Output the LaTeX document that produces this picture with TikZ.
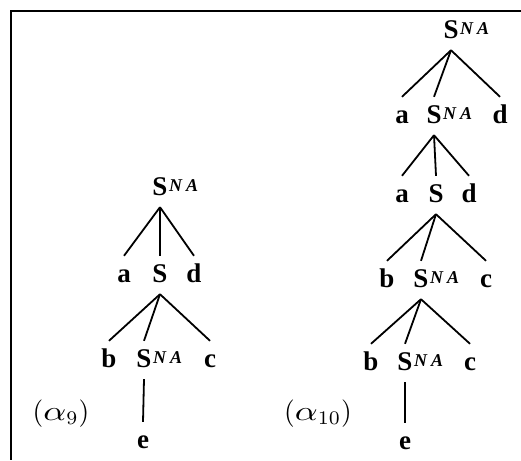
\documentclass[tikz,border=0pt]{standalone}
\usepackage{graphicx}
\usepackage{fontspec}
\setmainfont{Liberation Serif}
\newcommand{\myna}{\rlap{\hspace{1.5pt}\raisebox{4pt}{\fontsize{18}{18}\selectfont\itshape N\hspace{4pt}A}}}
\newcommand{\walpha}{\scalebox{1.3}[1]{$\alpha$}}
\begin{document}
\begin{tikzpicture}[x=1pt,y=-1pt,
  lt/.style={anchor=base,inner xsep=0pt,inner ysep=12pt,text height=14pt,text depth=0pt,
     font=\fontsize{27}{27}\selectfont\bfseries},
  edge/.style={line width=1.8pt},
  frame/.style={line width=2.2pt},
  lab/.style={anchor=base,inner sep=0pt,font=\normalsize}]
\useasboundingbox (0,0) rectangle (521,460);
\coordinate (fc) at (11,11);
\coordinate (fr) at (521,11);
\coordinate (fb) at (11,460);
\draw[frame] (fr) -- (fc) -- (fb);

% alpha 9
\node[lt] (l1) at (160,195) {S\myna};
\node[lt] (l2a) at (124,282) {a};
\node[lt] (l2s) at (160,282) {S};
\node[lt] (l2d) at (194,282) {d};
\node[lt] (l3b) at (109,367) {b};
\node[lt] (l3s) at (144,367) {S\myna};
\node[lt] (l3c) at (210,367) {c};
\node[lt] (l4e) at (143,448) {e};
\node[lab] (la) at (61,420) {\scalebox{2.75}{$($\walpha$_{9})$}};
\draw[edge] (l1.south) -- (l2a.north);
\draw[edge] (l1.south) -- (l2s.north);
\draw[edge] (l1.south) -- (l2d.north);
\draw[edge] (l2s.south) -- (l3b.north);
\draw[edge] (l2s.south) -- (l3s.north);
\draw[edge] (l2s.south) -- (l3c.north);
\draw[edge] (l3s.south) -- (l4e.north);

% alpha 10
\node[lt] (r1) at (451,38) {S\myna};
\node[lt] (r2a) at (402,123) {a};
\node[lt] (r2s) at (434,123) {S\myna};
\node[lt] (r2d) at (500,123) {d};
\node[lt] (r3a) at (402,202) {a};
\node[lt] (r3s) at (436,202) {S};
\node[lt] (r3d) at (469,202) {d};
\node[lt] (r4b) at (387,287) {b};
\node[lt] (r4s) at (421,287) {S\myna};
\node[lt] (r4c) at (486,287) {c};
\node[lt] (r5b) at (371,370) {b};
\node[lt] (r5s) at (405,370) {S\myna};
\node[lt] (r5c) at (470,370) {c};
\node[lt] (r6e) at (405,449) {e};
\node[lab] (ra) at (318,420) {\scalebox{2.75}{$($\walpha$_{10})$}};
\draw[edge] (r1.south) -- (r2a.north);
\draw[edge] (r1.south) -- (r2s.north);
\draw[edge] (r1.south) -- (r2d.north);
\draw[edge] (r2s.south) -- (r3a.north);
\draw[edge] (r2s.south) -- (r3s.north);
\draw[edge] (r2s.south) -- (r3d.north);
\draw[edge] (r3s.south) -- (r4b.north);
\draw[edge] (r3s.south) -- (r4s.north);
\draw[edge] (r3s.south) -- (r4c.north);
\draw[edge] (r4s.south) -- (r5b.north);
\draw[edge] (r4s.south) -- (r5s.north);
\draw[edge] (r4s.south) -- (r5c.north);
\draw[edge] (r5s.south) -- (r6e.north);
\end{tikzpicture}
\end{document}
